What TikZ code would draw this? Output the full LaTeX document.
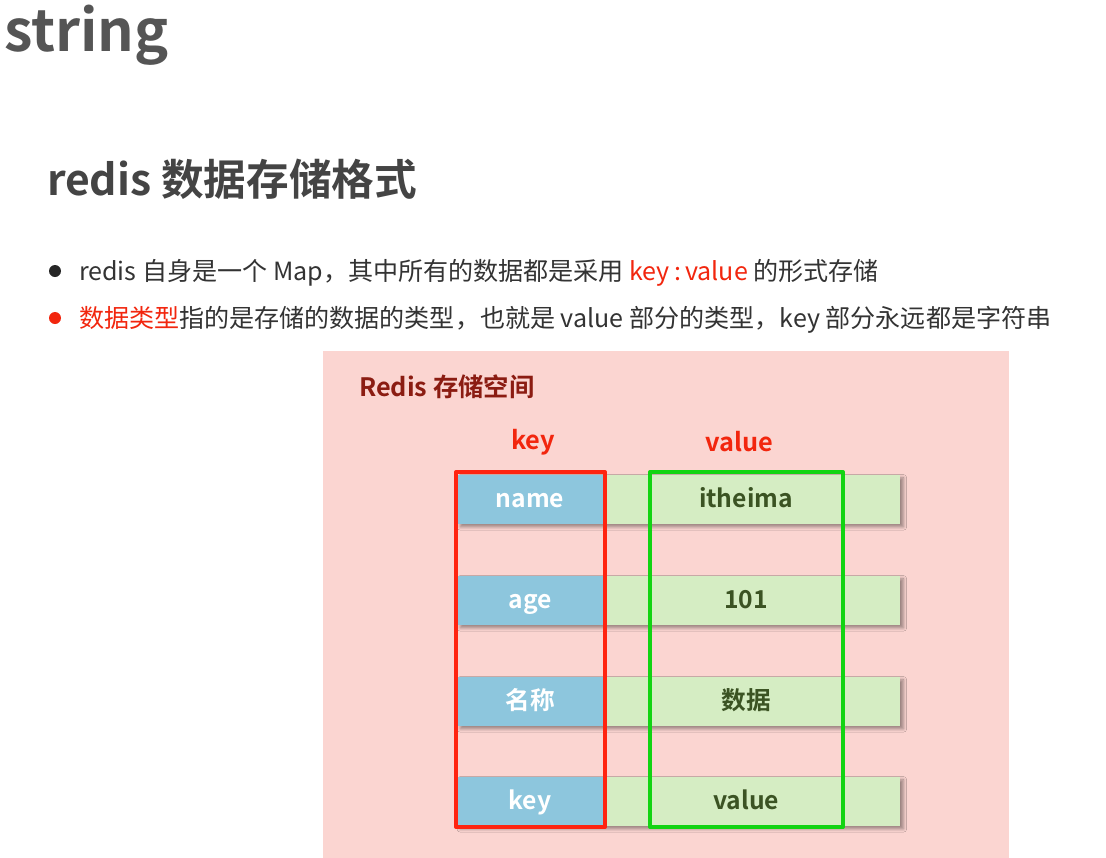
\documentclass[tikz,border=0pt]{standalone}
\usepackage{fontspec}
\setmainfont{Noto Sans CJK SC}[BoldFont={Noto Sans CJK SC Bold}]
\usetikzlibrary{shadows.blur}
\definecolor{pinkbg}{HTML}{FBD5D1}
\definecolor{keyblue}{HTML}{8DC6DD}
\definecolor{valgreen}{HTML}{D5EDC3}
\definecolor{framered}{HTML}{FF2410}
\definecolor{framegreen}{HTML}{12D412}
\definecolor{valtext}{HTML}{3B5323}
\definecolor{boxtitle}{HTML}{8B1C12}
\definecolor{hdrred}{HTML}{F2260E}
\definecolor{bodytext}{HTML}{333333}
\definecolor{titlegray}{HTML}{555555}
\definecolor{headgray}{HTML}{444444}
\begin{document}
\begin{tikzpicture}[x=0.75pt,y=-0.75pt,
  every node/.style={inner sep=0pt,outer sep=0pt},
  keybox/.style={fill=keyblue,minimum width=109.5pt,minimum height=36.75pt},
  keytxt/.style={anchor=base,text=white,font=\bfseries\fontsize{18.5}{20}\selectfont},
  valbox/.style={fill=valgreen,minimum width=219.75pt,minimum height=36.75pt},
  rowshadow/.style={fill=valgreen,minimum width=332.25pt,minimum height=36.75pt,blur shadow={shadow xshift=2.5pt,shadow yshift=-2.5pt,shadow blur radius=2.5pt,shadow opacity=40}},
  valtxt/.style={anchor=base,text=valtext,font=\bfseries\fontsize{18.5}{20}\selectfont},
  hdr/.style={text=hdrred,font=\bfseries\fontsize{19}{22}\selectfont},
  frame/.style={line width=3pt,line join=round},
  bodyline/.style={anchor=base west,text=bodytext,font=\fontsize{18.8}{22}\selectfont}
]
\useasboundingbox (0,0) rectangle (1106,857);
\fill[white] (0,0) rectangle (1106,857);

% titles
\node[anchor=base west,text=titlegray,font=\bfseries\fontsize{43}{48}\selectfont] (title) at (4,51) {string};
\node[anchor=base west,text=headgray,font=\bfseries\fontsize{32}{36}\selectfont] (heading) at (47,195) {redis 数据存储格式};

% bullets
\node[circle,fill=black!85,minimum size=9pt] (b1) at (55,271) {};
\node[bodyline] (l1) at (79,280) {redis 自身是一个 Map，其中所有的数据都是采用 \textcolor{hdrred}{key\,:\,value} 的形式存储};
\node[circle,fill=hdrred,minimum size=9pt] (b2) at (55,318) {};
\node[bodyline] (l2) at (79,327) {\textcolor{hdrred}{数据类型}指的是存储的数据的类型，也就是 value 部分的类型，key 部分永远都是字符串};

% storage area
\node[fill=pinkbg,minimum width=514.5pt,minimum height=380.25pt,anchor=north west] (area) at (323,351) {};
\node[anchor=base west,text=boxtitle,font=\bfseries\fontsize{19}{22}\selectfont] (areatitle) at (359,396) {Redis 存储空间};
\node[hdr] (hkey) at (533,442) {key};
\node[hdr] (hval) at (739,442) {value};

% rows
\foreach \y/\k/\v/\n in {499/name/itheima/1, 600/age/101/2, 701/名称/数据/3, 801/key/value/4}{
  \node[rowshadow] (s\n) at (678.5,\y) {};
  \node[keybox] (k\n) at (530,\y) {};
  \node[valbox] (v\n) at (753.5,\y) {};
  \node[keytxt] (kt\n) at ([yshift=-6pt]k\n.center) {\k};
  \node[valtxt] (t\n) at ([xshift=-5.6pt,yshift=-6pt]v\n.center) {\v};
}

% frames
\coordinate (rtl) at (456,472);
\coordinate (rbr) at (605,827);
\coordinate (gtl) at (650,472);
\coordinate (gbr) at (843,827);
\draw[frame,framered] (rtl) rectangle (rbr);
\draw[frame,framegreen] (gtl) rectangle (gbr);
\end{tikzpicture}
\end{document}
